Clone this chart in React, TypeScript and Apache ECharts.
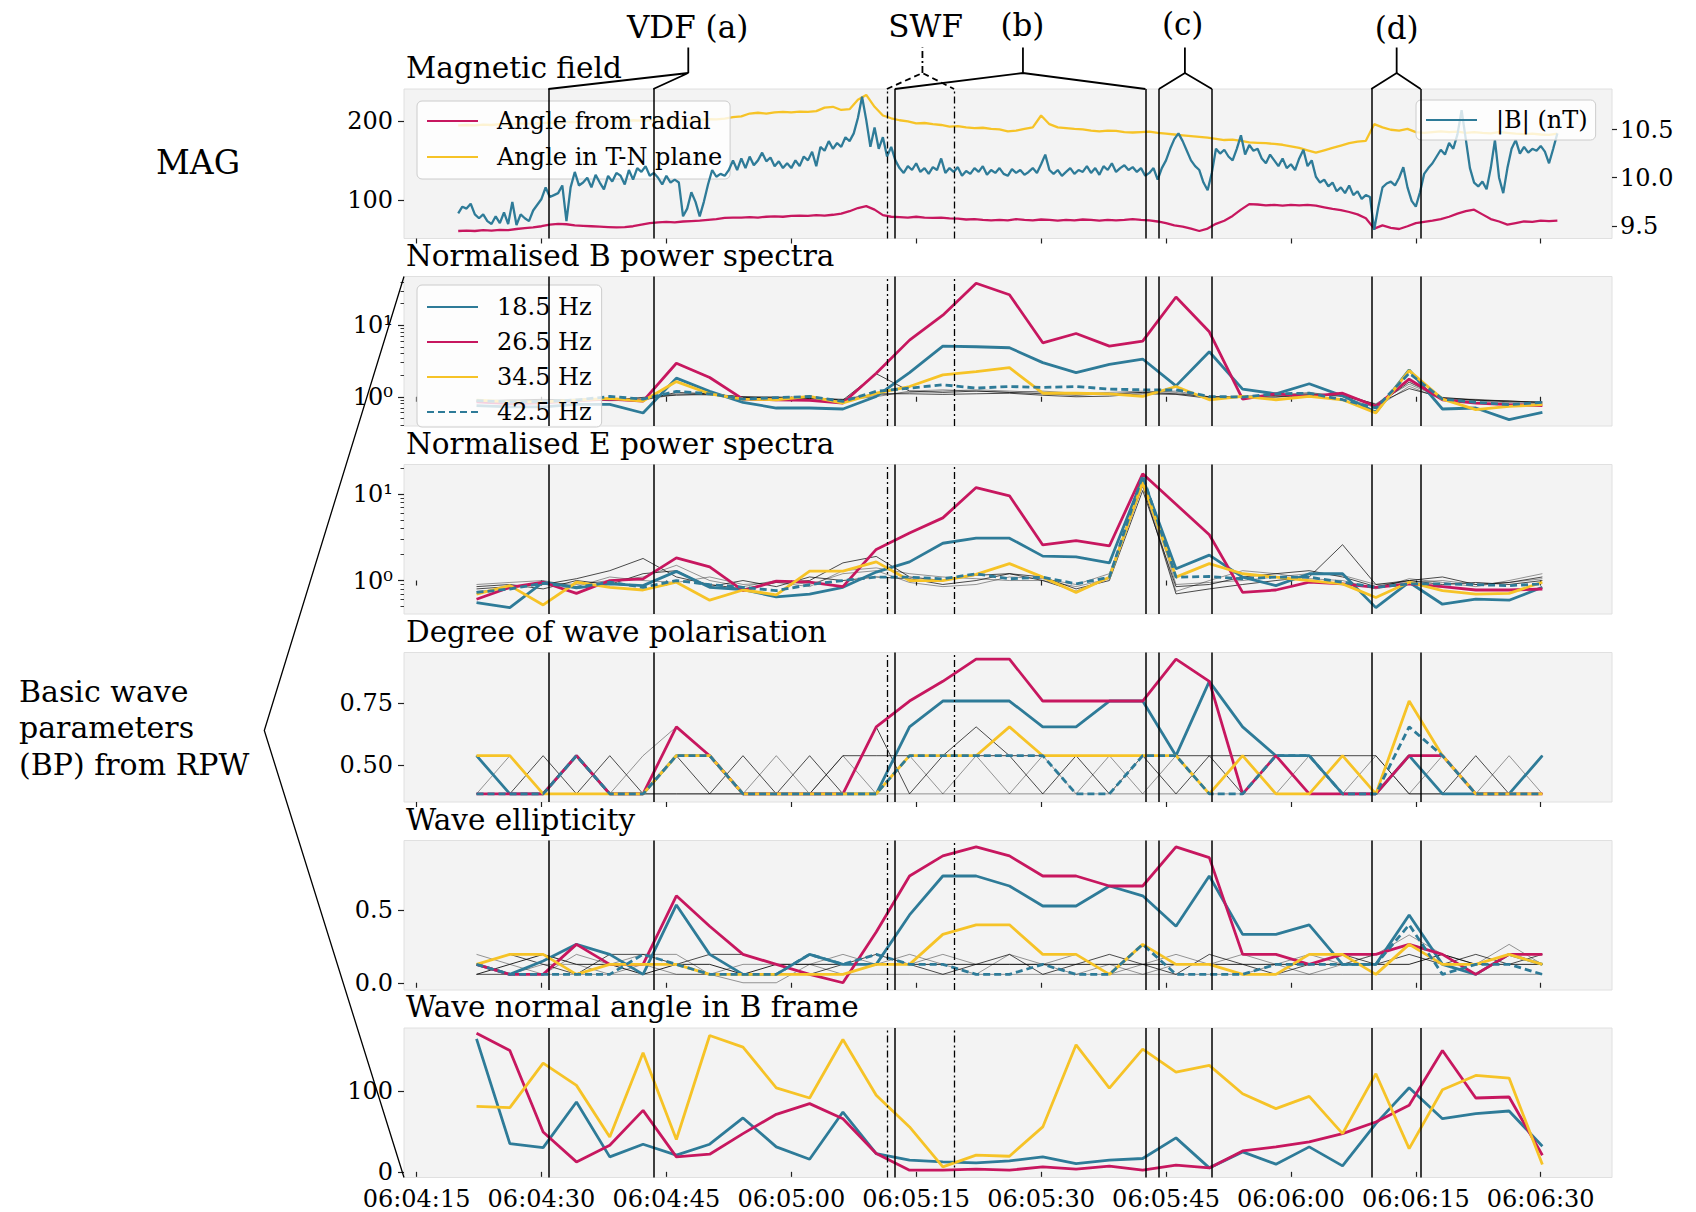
import React, { useEffect, useRef } from "react";
import * as echarts from "echarts";

// ---------- style constants ----------
const FONT = "DejaVu Serif";
const BLUE = "#2e7b98";
const RED = "#c7175f";
const YELLOW = "#f6c327";
const GRAY_DARK = "rgba(0,0,0,0.7)";
const GRAY_LIGHT = "rgba(0,0,0,0.4)";

// ---------- layout (px) ----------
const CHART_W = 1696;
const CHART_H = 1212;
const GRID_LEFT = 404;
const GRID_RIGHT = 84;
const GRID_TOPS = [89, 276.5, 464.5, 652.5, 840.5, 1028];
const GRID_H = 149.5;

// ---------- time axis: seconds after 06:04:00 ----------
const X_MIN = 13.49;
const X_MAX = 158.56;
const xTicks = [15, 30, 45, 60, 75, 90, 105, 120, 135, 150];

// event intervals (seconds after 06:04:00)
const vdfLines = [30.82, 43.43];
const swfLines = [71.48, 79.55];
const bLines = [72.43, 102.53];
const cLines = [104.15, 110.52];
const dLines = [129.65, 135.58];

const panelTitles = [
  "Magnetic field",
  "Normalised B power spectra",
  "Normalised E power spectra",
  "Degree of wave polarisation",
  "Wave ellipticity",
  "Wave normal angle in B frame",
];

// ---------- MAG data ----------
const MAG_B_T0 = 20.0;
const MAG_B_DT = 0.5;
const magB = [
  9.63, 9.70, 9.68, 9.73, 9.62, 9.58, 9.62, 9.55, 9.52, 9.60,
  9.53, 9.64, 9.52, 9.75, 9.51, 9.62, 9.58, 9.55, 9.66, 9.72,
  9.78, 9.90, 9.80, 9.82, 9.84, 9.92, 9.55, 9.90, 10.06, 9.92,
  9.95, 10.00, 9.90, 10.03, 9.95, 9.88, 10.02, 9.96, 10.05, 10.02,
  9.93, 10.08, 9.98, 10.10, 10.06, 10.12, 10.02, 10.05, 10.00, 9.93,
  10.02, 9.95, 9.98, 9.95, 9.60, 9.68, 9.85, 9.75, 9.60, 9.75,
  9.93, 10.08, 10.01, 10.04, 10.02, 10.08, 10.18, 10.08, 10.20, 10.10,
  10.22, 10.13, 10.18, 10.26, 10.17, 10.21, 10.12, 10.17, 10.10, 10.15,
  10.10, 10.18, 10.12, 10.22, 10.18, 10.27, 10.12, 10.32, 10.28, 10.38,
  10.30, 10.36, 10.32, 10.42, 10.38, 10.46, 10.62, 10.84, 10.60, 10.32,
  10.52, 10.30, 10.42, 10.22, 10.32, 10.18, 10.10, 10.05, 10.12, 10.08,
  10.15, 10.06, 10.10, 10.04, 10.11, 10.08, 10.20, 10.05, 10.10, 10.06,
  10.11, 10.02, 10.07, 10.04, 10.10, 10.06, 10.12, 10.03, 10.08, 10.05,
  10.10, 10.04, 10.02, 10.09, 10.05, 10.08, 10.03, 10.06, 10.10, 10.05,
  10.14, 10.24, 10.08, 10.04, 10.08, 10.02, 10.06, 10.10, 10.04, 10.08,
  10.06, 10.12, 10.05, 10.10, 10.03, 10.12, 10.08, 10.15, 10.06, 10.10,
  10.13, 10.08, 10.11, 10.06, 10.10, 10.02, 10.05, 10.10, 9.98, 10.10,
  10.18, 10.30, 10.40, 10.46, 10.38, 10.28, 10.18, 10.12, 10.08, 9.95,
  9.87, 10.05, 10.30, 10.25, 10.29, 10.22, 10.18, 10.30, 10.44, 10.24,
  10.34, 10.28, 10.30, 10.20, 10.15, 10.24, 10.18, 10.12, 10.20, 10.10,
  10.14, 10.08, 10.20, 10.29, 10.12, 10.18, 10.01, 9.95, 9.98, 9.91,
  9.95, 9.86, 9.90, 9.84, 9.92, 9.82, 9.86, 9.78, 9.82, 9.80,
  9.46, 9.70, 9.90, 9.94, 9.96, 9.92, 10.00, 10.11, 9.90, 9.76,
  9.70, 9.85, 10.04, 10.10, 10.15, 10.22, 10.29, 10.24, 10.36, 10.30,
  10.45, 10.70, 10.40, 10.10, 9.95, 9.91, 9.96, 9.88, 10.10, 10.39,
  10.00, 9.84, 10.10, 10.30, 10.39, 10.25, 10.32, 10.26, 10.30, 10.28,
  10.33, 10.27, 10.15, 10.30, 10.46,
];

const MAG_ANG_T0 = 20;
const MAG_ANG_DT = 1;
const angleRadial = [
  61, 61.5, 61, 62, 61.5, 62.5, 62, 63.5, 64.5, 65.5,
  67, 69, 70, 69.5, 68, 67.5, 67, 66.5, 66, 65.5,
  66, 67, 69, 71, 72, 72.5, 72, 73, 73.5, 74,
  75, 76, 77.5, 78, 78, 78.5, 78, 79, 79.5, 79,
  80, 80.5, 80, 81, 80.5, 81.5, 83, 86, 90, 92.5,
  88, 81, 79, 78.5, 78, 79, 78, 77.5, 78, 77,
  76.5, 75.5, 76, 75, 74.5, 75, 74.5, 76, 75, 74.5,
  75.5, 75, 74, 75, 74.5, 75.5, 75, 74, 75, 74.5,
  75, 76, 75, 74.5, 73, 71, 68, 66.5, 64, 61,
  64, 70, 74, 80, 88, 95, 94.5, 93.5, 94, 93,
  94, 93.5, 94, 93, 91, 89, 87.5, 85, 82, 77,
  64, 68, 65, 63.5, 67, 71, 72.5, 74, 76, 79,
  83, 86, 88, 82, 76, 73, 69, 71, 73, 72.5,
  74, 73.5, 74,
];
const angleTN = [
  194.5, 195, 194.5, 195.5, 195, 196, 196, 196.5, 197, 196.5,
  197.5, 198, 197.5, 198.5, 199, 198.5, 199.5, 199, 200, 200.5,
  200, 201, 200.5, 201, 201.5, 201, 202, 201.5, 202, 201.5,
  202.5, 202, 203, 205, 206, 209.5, 210.5, 209.5, 211, 211.5,
  211, 212, 211.5, 212.5, 217, 218, 214, 215, 227, 233,
  218, 207, 203.5, 201, 199.5, 197, 197.5, 196, 195, 193,
  193.5, 192, 191, 191.5, 190, 189.5, 187, 188, 190, 192,
  207, 196, 192, 191, 190, 189.5, 188, 187, 188, 187.5,
  186, 185.5, 186, 186.5, 185, 184, 183, 182, 181, 180,
  179, 177.5, 176, 176.5, 175, 173, 172.5, 172, 171, 170,
  168, 166, 163, 160, 163, 166, 169, 172, 174, 175,
  196, 192, 189, 188, 190, 186, 185, 186, 187, 186,
  186.5, 185, 186, 185, 184.5, 186, 185, 184, 183.5, 184,
  183, 182.5, 184,
];

// ---------- BP data (RPW) ----------
const bpTime = [
  22.2, 26.2, 30.2, 34.2, 38.2, 42.2, 46.2, 50.2, 54.2, 58.2,
  62.2, 66.2, 70.2, 74.2, 78.2, 82.2, 86.2, 90.2, 94.2, 98.2,
  102.2, 106.2, 110.2, 114.2, 118.2, 122.2, 126.2, 130.2, 134.2, 138.2,
  142.2, 146.2, 150.2,
];
const freqNames = ["18.5 Hz", "26.5 Hz", "34.5 Hz", "42.5 Hz"];

// Normalised B power spectra
const bPow185 = [0.75, 0.72, 0.72, 0.78, 0.78, 0.593, 1.82, 1.19, 0.834, 0.696, 0.696, 0.674, 1.01, 2.18, 5.1, 5.0, 4.84, 3.0, 2.18, 2.84, 3.37, 1.42, 4.26, 1.28, 1.10, 1.52, 1.03, 0.606, 2.37, 0.674, 0.696, 0.479, 0.606];
const bPow265 = [0.85, 0.8, 0.82, 0.88, 0.928, 0.87, 2.94, 1.86, 0.928, 0.908, 0.889, 0.817, 2.13, 6.19, 13.8, 38.6, 26.7, 5.68, 7.66, 5.1, 5.99, 24.8, 8.1, 0.928, 1.10, 1.01, 1.12, 0.734, 1.76, 0.908, 0.817, 0.774, 0.750];
const bPow345 = [0.9, 0.85, 0.85, 0.9, 0.95, 0.87, 1.63, 1.10, 0.928, 0.908, 1.01, 0.817, 1.12, 1.39, 2.02, 2.25, 2.55, 1.12, 1.12, 1.10, 1.01, 1.39, 0.908, 1.01, 0.908, 1.01, 0.908, 0.593, 2.32, 0.928, 0.66, 0.734, 0.774];
const bPow425 = [0.88, 0.85, 0.86, 0.9, 1.01, 0.928, 1.19, 1.10, 0.928, 0.97, 1.01, 0.861, 1.19, 1.32, 1.47, 1.32, 1.39, 1.35, 1.39, 1.28, 1.25, 1.25, 1.01, 0.99, 1.10, 1.12, 0.908, 0.696, 2.13, 0.928, 0.834, 0.774, 0.834];
const bPowOtherA = [0.85, 0.88, 0.9, 0.92, 0.95, 0.9, 1.15, 1.1, 0.98, 0.95, 0.95, 0.9, 2.1, 1.2, 1.15, 1.2, 1.15, 1.1, 1.05, 1.1, 1.15, 1.1, 1.0, 1.0, 1.05, 1.1, 1.05, 0.75, 1.6, 0.95, 0.9, 0.85, 0.85];
const bPowOtherB = [0.9, 0.85, 0.88, 0.9, 0.92, 0.95, 1.1, 1.05, 1.0, 0.95, 0.92, 0.88, 1.05, 1.15, 1.2, 1.25, 1.2, 1.15, 1.1, 1.15, 1.2, 1.15, 0.98, 1.02, 1.05, 1.15, 1.0, 0.7, 1.4, 0.92, 0.88, 0.82, 0.8];
const bPowOtherC = [0.88, 0.9, 0.92, 0.88, 0.9, 0.98, 1.05, 1.08, 1.0, 0.98, 0.95, 0.92, 1.1, 1.1, 1.08, 1.1, 1.12, 1.05, 1.0, 1.02, 1.1, 1.08, 0.95, 0.98, 1.0, 1.05, 1.1, 0.78, 1.3, 0.98, 0.9, 0.88, 0.82];
const bPowOtherD = [0.86, 0.9, 0.86, 0.92, 0.88, 0.9, 1.08, 1.12, 0.98, 1.0, 0.98, 0.9, 1.0, 1.2, 1.25, 1.2, 1.15, 1.2, 1.12, 1.08, 1.15, 1.2, 1.0, 1.0, 0.98, 1.08, 1.02, 0.8, 1.5, 0.95, 0.92, 0.86, 0.84];

// Normalised E power spectra
const ePow185 = [0.556, 0.486, 0.956, 0.820, 0.914, 0.873, 1.276, 0.835, 0.784, 0.648, 0.697, 0.835, 1.253, 1.643, 2.70, 3.09, 3.09, 1.916, 1.880, 1.599, 15.3, 1.371, 1.968, 1.094, 0.873, 1.198, 1.198, 0.486, 0.956, 0.532, 0.608, 0.592, 0.835];
const ePow265 = [0.608, 0.835, 0.956, 0.710, 1.0, 1.046, 1.83, 1.435, 0.763, 0.982, 0.956, 0.850, 2.29, 3.54, 5.31, 11.9, 9.55, 2.58, 2.90, 2.51, 17.2, 7.63, 3.38, 0.729, 0.777, 0.956, 0.914, 0.835, 0.914, 0.850, 0.777, 0.777, 0.798];
const ePow345 = [0.697, 0.873, 0.522, 0.956, 0.835, 0.777, 0.956, 0.592, 0.777, 0.684, 1.288, 1.288, 1.643, 1.0, 1.0, 1.176, 1.570, 1.094, 0.729, 1.094, 13.7, 1.094, 1.570, 1.198, 1.094, 1.0, 0.914, 0.637, 0.956, 0.763, 0.697, 0.710, 0.956];
const ePow425 = [0.729, 0.798, 0.930, 0.835, 0.956, 0.835, 1.0, 0.897, 0.835, 0.763, 0.897, 1.0, 1.094, 1.094, 1.046, 1.198, 1.046, 1.094, 0.914, 1.094, 16.4, 1.094, 1.114, 1.046, 1.094, 1.094, 0.956, 0.835, 0.914, 0.914, 0.897, 0.873, 0.914];
const ePowOtherA = [0.8, 0.85, 0.9, 1.05, 1.3, 1.8, 1.1, 0.9, 0.8, 0.95, 1.0, 1.6, 1.9, 1.1, 1.0, 1.15, 1.2, 1.0, 0.75, 1.1, 12.5, 0.7, 0.8, 0.9, 1.0, 1.1, 2.6, 0.9, 1.0, 1.1, 0.9, 0.95, 1.1];
const ePowOtherB = [0.75, 0.8, 0.95, 0.9, 1.0, 1.1, 1.5, 1.0, 0.85, 1.0, 0.9, 1.2, 1.3, 0.95, 0.85, 0.9, 1.1, 1.05, 0.9, 1.2, 14, 0.75, 1.0, 1.3, 1.2, 1.05, 1.0, 0.8, 1.05, 0.95, 0.85, 1.0, 1.2];
const ePowOtherC = [0.85, 0.9, 0.8, 1.0, 0.9, 1.2, 1.3, 0.85, 1.0, 0.85, 1.1, 1.0, 1.1, 1.05, 0.9, 1.0, 1.2, 1.1, 0.8, 1.0, 11, 0.85, 0.9, 1.1, 1.2, 1.3, 1.1, 0.85, 1.0, 0.9, 0.95, 0.9, 1.0];
const ePowOtherD = [0.9, 0.95, 1.0, 0.85, 1.1, 1.0, 0.95, 1.1, 0.9, 0.95, 0.85, 1.3, 1.4, 1.2, 1.1, 1.05, 1.0, 1.0, 0.85, 1.05, 16, 0.9, 0.95, 1.0, 1.1, 1.2, 1.15, 0.9, 0.95, 1.0, 0.9, 0.95, 1.05];

// Degree of wave polarisation
const pol185 = [0.538, 0.383, 0.383, 0.538, 0.383, 0.383, 0.538, 0.538, 0.383, 0.383, 0.383, 0.383, 0.383, 0.655, 0.76, 0.76, 0.76, 0.655, 0.655, 0.76, 0.76, 0.538, 0.84, 0.655, 0.538, 0.538, 0.383, 0.383, 0.538, 0.383, 0.383, 0.383, 0.538];
const pol265 = [0.383, 0.383, 0.383, 0.538, 0.383, 0.383, 0.655, 0.538, 0.383, 0.383, 0.383, 0.383, 0.655, 0.76, 0.84, 0.93, 0.93, 0.76, 0.76, 0.76, 0.76, 0.93, 0.84, 0.383, 0.538, 0.383, 0.383, 0.383, 0.538, 0.538, 0.383, 0.383, 0.383];
const pol345 = [0.538, 0.538, 0.383, 0.383, 0.383, 0.383, 0.538, 0.538, 0.383, 0.383, 0.383, 0.383, 0.383, 0.538, 0.538, 0.538, 0.655, 0.538, 0.538, 0.538, 0.538, 0.538, 0.383, 0.538, 0.383, 0.383, 0.538, 0.383, 0.76, 0.538, 0.383, 0.383, 0.383];
const pol425 = [0.383, 0.383, 0.383, 0.538, 0.383, 0.383, 0.538, 0.538, 0.383, 0.383, 0.383, 0.383, 0.383, 0.538, 0.538, 0.538, 0.538, 0.538, 0.383, 0.383, 0.538, 0.538, 0.383, 0.383, 0.538, 0.538, 0.383, 0.383, 0.655, 0.538, 0.383, 0.383, 0.383];
const polOtherA = [0.383, 0.538, 0.383, 0.538, 0.383, 0.538, 0.655, 0.538, 0.383, 0.538, 0.383, 0.538, 0.383, 0.538, 0.383, 0.538, 0.383, 0.538, 0.383, 0.538, 0.383, 0.538, 0.383, 0.538, 0.383, 0.538, 0.383, 0.538, 0.383, 0.538, 0.383, 0.538, 0.383];
const polOtherB = [0.538, 0.383, 0.538, 0.383, 0.538, 0.383, 0.538, 0.383, 0.538, 0.383, 0.538, 0.383, 0.655, 0.383, 0.538, 0.655, 0.538, 0.383, 0.538, 0.383, 0.538, 0.383, 0.538, 0.383, 0.538, 0.383, 0.538, 0.383, 0.538, 0.383, 0.538, 0.383, 0.538];
const polOtherC = [0.383, 0.383, 0.383, 0.383, 0.383, 0.383, 0.383, 0.383, 0.383, 0.383, 0.383, 0.538, 0.538, 0.538, 0.538, 0.538, 0.538, 0.538, 0.538, 0.538, 0.538, 0.538, 0.538, 0.538, 0.538, 0.538, 0.538, 0.538, 0.383, 0.383, 0.383, 0.383, 0.383];
const polOtherD = [0.383, 0.383, 0.383, 0.383, 0.383, 0.383, 0.383, 0.383, 0.383, 0.383, 0.383, 0.383, 0.383, 0.383, 0.383, 0.383, 0.383, 0.383, 0.383, 0.383, 0.383, 0.383, 0.383, 0.383, 0.383, 0.383, 0.383, 0.383, 0.383, 0.383, 0.383, 0.383, 0.383];

// Wave ellipticity
const ell185 = [0.127, 0.058, 0.15, 0.265, 0.196, 0.058, 0.537, 0.196, 0.058, 0.058, 0.196, 0.127, 0.127, 0.468, 0.737, 0.737, 0.668, 0.53, 0.53, 0.668, 0.60, 0.39, 0.737, 0.334, 0.334, 0.40, 0.127, 0.127, 0.468, 0.127, 0.058, 0.196, 0.127];
const ell265 = [0.127, 0.058, 0.058, 0.265, 0.127, 0.127, 0.60, 0.39, 0.196, 0.127, 0.058, 0.0, 0.35, 0.737, 0.876, 0.938, 0.876, 0.737, 0.737, 0.668, 0.668, 0.938, 0.864, 0.196, 0.196, 0.127, 0.196, 0.196, 0.265, 0.196, 0.058, 0.196, 0.196];
const ell345 = [0.127, 0.196, 0.196, 0.058, 0.127, 0.127, 0.127, 0.058, 0.058, 0.058, 0.058, 0.058, 0.127, 0.127, 0.334, 0.40, 0.40, 0.196, 0.196, 0.058, 0.265, 0.127, 0.127, 0.058, 0.058, 0.196, 0.196, 0.058, 0.265, 0.127, 0.127, 0.196, 0.127];
const ell425 = [0.127, 0.058, 0.058, 0.058, 0.058, 0.196, 0.127, 0.058, 0.058, 0.058, 0.196, 0.127, 0.196, 0.127, 0.127, 0.058, 0.058, 0.127, 0.058, 0.058, 0.265, 0.058, 0.058, 0.058, 0.127, 0.127, 0.127, 0.127, 0.40, 0.058, 0.127, 0.127, 0.058];
const ellOtherA = [0.196, 0.127, 0.058, 0.196, 0.127, 0.196, 0.196, 0.058, 0.0, 0.0, 0.127, 0.196, 0.127, 0.196, 0.127, 0.058, 0.196, 0.127, 0.196, 0.058, 0.127, 0.196, 0.127, 0.196, 0.127, 0.196, 0.127, 0.196, 0.33, 0.196, 0.127, 0.265, 0.127];
const ellOtherB = [0.127, 0.196, 0.127, 0.058, 0.196, 0.196, 0.127, 0.196, 0.196, 0.127, 0.058, 0.127, 0.196, 0.127, 0.058, 0.127, 0.196, 0.058, 0.127, 0.196, 0.127, 0.058, 0.196, 0.127, 0.058, 0.127, 0.196, 0.127, 0.196, 0.127, 0.196, 0.127, 0.196];
const ellOtherC = [0.058, 0.058, 0.127, 0.127, 0.058, 0.127, 0.058, 0.058, 0.127, 0.127, 0.127, 0.058, 0.127, 0.127, 0.196, 0.127, 0.127, 0.127, 0.058, 0.127, 0.058, 0.127, 0.127, 0.058, 0.127, 0.058, 0.127, 0.196, 0.265, 0.127, 0.058, 0.196, 0.196];
const ellOtherD = [0.058, 0.127, 0.196, 0.127, 0.127, 0.058, 0.127, 0.127, 0.058, 0.127, 0.127, 0.127, 0.127, 0.127, 0.127, 0.127, 0.127, 0.127, 0.127, 0.127, 0.127, 0.127, 0.127, 0.127, 0.127, 0.127, 0.127, 0.127, 0.127, 0.196, 0.127, 0.127, 0.127];
const ellOtherE = [0.058, 0.058, 0.058, 0.058, 0.058, 0.058, 0.058, 0.058, 0.058, 0.058, 0.058, 0.058, 0.058, 0.058, 0.058, 0.058, 0.058, 0.058, 0.058, 0.058, 0.058, 0.058, 0.058, 0.058, 0.058, 0.058, 0.058, 0.058, 0.058, 0.058, 0.058, 0.058, 0.058];

// Wave normal angle in B frame
const wna185 = [164.6, 35, 30, 86.4, 18.5, 34.2, 20.6, 34.2, 66.7, 30.9, 15.6, 74, 22.6, 14.4, 12.3, 11.1, 13.6, 18.5, 10.3, 14.4, 16.5, 42, 4.9, 24.7, 9.5, 30.9, 7.4, 59.7, 104, 65.8, 72, 75.3, 31.7];
const wna265 = [171.6, 150.2, 49.4, 12.3, 32.9, 76.1, 18.5, 21.8, 47.3, 71.2, 84.4, 65.8, 22.6, 2.1, 2.1, 3.3, 2.1, 6.2, 3.3, 7, 2.1, 8.2, 4.9, 25.9, 30.9, 37, 47.3, 61.7, 82.3, 150.2, 91.4, 92.6, 20.6];
const wna345 = [81, 79.4, 134.6, 107, 43.2, 147.3, 40, 168.7, 154.3, 104, 91.4, 163.8, 94.7, 55.6, 6.2, 20.6, 19.3, 55.6, 157.2, 103.7, 151.9, 123.5, 131.7, 96.7, 78.2, 93.4, 47.3, 121.4, 28.8, 101.6, 119.3, 116, 9];

// ---------- axis ranges / ticks ----------
const angRange = [51.5, 240.5];
const angTicks = [100, 200];
const bRange = [9.37, 10.92];
const bTicks = [9.5, 10.0, 10.5];
const bPowRange = [0.39, 48];
const ePowRange = [0.41, 22];
const logMajor = [1, 10];
const logMinor = [0.4, 0.5, 0.6, 0.7, 0.8, 0.9, 2, 3, 4, 5, 6, 7, 8, 9, 20, 30, 40];
const polRange = [0.35, 0.957];
const polTicks = [0.5, 0.75];
const ellRange = [-0.05, 0.982];
const ellTicks = [0, 0.5];
const wnaRange = [-7, 178];
const wnaTicks = [0, 100];

// annotation (label) positions
const annotations = [
  { label: "VDF (a)", lines: vdfLines, apexT: 47.63, labelT: 47.55, labelY: 26.7, dashed: false },
  { label: "SWF", lines: swfLines, apexT: 75.75, labelT: 76.13, labelY: 26.2, dashed: true },
  { label: "(b)", lines: bLines, apexT: 87.82, labelT: 87.76, labelY: 25, dashed: false },
  { label: "(c)", lines: cLines, apexT: 107.27, labelT: 107.0, labelY: 23.5, dashed: false },
  { label: "(d)", lines: dLines, apexT: 132.7, labelT: 132.7, labelY: 27.8, dashed: false },
];

// ---------- helpers ----------
const lg = (v: number) => Math.log10(v);
const pairs = (ts: number[], vs: number[], f: (v: number) => number = (v) => v) =>
  vs.map((v, i) => [ts[i], f(v)]);
const cadence = (t0: number, dt: number, vs: number[]) => vs.map((_, i) => t0 + i * dt);

const fmtTime = (v: number) => {
  const total = 4 * 60 + Math.round(v);
  const m = Math.floor(total / 60);
  const s = total % 60;
  return `06:${String(m).padStart(2, "0")}:${String(s).padStart(2, "0")}`;
};
const supDigits: Record<string, string> = { "0": "\u2070", "1": "\u00b9", "2": "\u00b2", "-": "\u207b" };
const fmtLog = (v: number) => "10" + String(Math.round(v)).split("").map((c) => supDigits[c] || c).join("");

const TICK_COLOR = "#222";

function xAxisFor(i: number) {
  return {
    type: "value",
    gridIndex: i,
    min: X_MIN,
    max: X_MAX,
    axisLine: { show: false },
    splitLine: { show: false },
    axisTick: { show: true, customValues: xTicks, length: 5, lineStyle: { color: TICK_COLOR, width: 1.2 } },
    axisLabel: {
      show: i === 5,
      customValues: xTicks,
      formatter: fmtTime,
      fontSize: 24,
      fontFamily: FONT,
      color: "#000",
      margin: 9,
    },
  };
}

function yAxisFor(gridIndex: number, min: number, max: number, ticks: number[], fmt: (v: number) => string, opts: any = {}) {
  return {
    type: "value",
    gridIndex,
    min,
    max,
    position: opts.position || "left",
    axisLine: { show: false },
    splitLine: { show: false },
    axisTick: {
      show: true,
      customValues: ticks,
      length: opts.tickLen ?? 6,
      lineStyle: { color: TICK_COLOR, width: opts.tickWidth ?? 1.2 },
    },
    axisLabel: {
      show: opts.showLabel !== false,
      customValues: ticks,
      formatter: fmt,
      fontSize: 24,
      fontFamily: FONT,
      color: "#000",
      margin: opts.margin ?? 11,
    },
  };
}

function lineSeries(name: string, xi: number, yi: number, data: number[][], color: string, width: number, extra: any = {}) {
  return {
    type: "line",
    name,
    xAxisIndex: xi,
    yAxisIndex: yi,
    data,
    symbol: "none",
    showSymbol: false,
    silent: true,
    animation: false,
    emphasis: { disabled: true },
    lineStyle: { color, width, type: extra.dash || "solid" },
    itemStyle: { color },
    z: extra.z ?? 2,
  };
}

function markerHost(gi: number, yi: number, z: number) {
  const solid = [...vdfLines, ...bLines, ...cLines, ...dLines];
  return {
    type: "line",
    name: "markers" + gi,
    xAxisIndex: gi,
    yAxisIndex: yi,
    data: [],
    silent: true,
    animation: false,
    z,
    markLine: {
      silent: true,
      animation: false,
      symbol: ["none", "none"],
      label: { show: false },
      emphasis: { disabled: true },
      lineStyle: { color: "#000", width: 1.5, type: "solid" },
      data: [
        ...solid.map((x) => ({ xAxis: x })),
        ...swfLines.map((x) => ({ xAxis: x, lineStyle: { color: "#000", width: 1.3, type: [7, 3, 2, 3] } })),
      ],
    },
  };
}

function buildOption() {
  const grids = GRID_TOPS.map((t) => ({
    left: GRID_LEFT,
    right: GRID_RIGHT,
    top: t,
    height: GRID_H,
    show: true,
    backgroundColor: "#f3f3f3",
    borderColor: "#e0e0e0",
    borderWidth: 1,
    containLabel: false,
  }));

  const yAxes = [
    yAxisFor(0, angRange[0], angRange[1], angTicks, (v) => String(v)),
    yAxisFor(0, bRange[0], bRange[1], bTicks, (v) => v.toFixed(1), { position: "right", tickLen: 5, margin: 8 }),
    yAxisFor(1, lg(bPowRange[0]), lg(bPowRange[1]), logMajor.map(lg), fmtLog),
    yAxisFor(1, lg(bPowRange[0]), lg(bPowRange[1]), logMinor.map(lg), () => "", { showLabel: false, tickLen: 3.5, tickWidth: 0.9 }),
    yAxisFor(2, lg(ePowRange[0]), lg(ePowRange[1]), logMajor.map(lg), fmtLog),
    yAxisFor(2, lg(ePowRange[0]), lg(ePowRange[1]), logMinor.filter((v) => v >= ePowRange[0] && v <= ePowRange[1]).map(lg), () => "", { showLabel: false, tickLen: 3.5, tickWidth: 0.9 }),
    yAxisFor(3, polRange[0], polRange[1], polTicks, (v) => v.toFixed(2)),
    yAxisFor(4, ellRange[0], ellRange[1], ellTicks, (v) => v.toFixed(1)),
    yAxisFor(5, wnaRange[0], wnaRange[1], wnaTicks, (v) => String(v)),
  ];

  const magBT = cadence(MAG_B_T0, MAG_B_DT, magB);
  const magAT = cadence(MAG_ANG_T0, MAG_ANG_DT, angleRadial);

  const series: any[] = [];
  series.push(lineSeries("Angle from radial", 0, 0, pairs(magAT, angleRadial), RED, 2.3, { z: 1 }));
  series.push(lineSeries("Angle in T-N plane", 0, 0, pairs(magAT, angleTN), YELLOW, 2.3, { z: 1 }));
  series.push(markerHost(0, 0, 1));
  series.push(lineSeries("|B| (nT)", 0, 1, pairs(magBT, magB), BLUE, 2.3, { z: 3 }));

  const bpPanel = (gi: number, yi: number, main: number[][], others: number[][], f: (v: number) => number, prefix: string, otherColors: string[]) => {
    others.forEach((o, k) => series.push(lineSeries(prefix + " other " + k, gi, yi, pairs(bpTime, o, f), otherColors[k % otherColors.length], 1)));
    const names = freqNames.map((n) => (prefix ? prefix + " " + n : n));
    series.push(lineSeries(names[0], gi, yi, pairs(bpTime, main[0], f), BLUE, 2.8));
    series.push(lineSeries(names[1], gi, yi, pairs(bpTime, main[1], f), RED, 2.8));
    series.push(lineSeries(names[2], gi, yi, pairs(bpTime, main[2], f), YELLOW, 2.8));
    if (main[3]) series.push(lineSeries(names[3], gi, yi, pairs(bpTime, main[3], f), BLUE, 2.8, { dash: [7, 4] }));
    series.push(markerHost(gi, yi, 5));
  };

  bpPanel(1, 2, [bPow185, bPow265, bPow345, bPow425], [bPowOtherA, bPowOtherB, bPowOtherC, bPowOtherD], lg, "", [GRAY_DARK, GRAY_LIGHT]);
  bpPanel(2, 4, [ePow185, ePow265, ePow345, ePow425], [ePowOtherA, ePowOtherB, ePowOtherC, ePowOtherD], lg, "E", [GRAY_DARK, GRAY_LIGHT]);
  bpPanel(3, 6, [pol185, pol265, pol345, pol425], [polOtherA, polOtherB, polOtherC, polOtherD], (v) => v, "P", [GRAY_LIGHT, GRAY_DARK, GRAY_DARK, GRAY_LIGHT]);
  bpPanel(4, 7, [ell185, ell265, ell345, ell425], [ellOtherA, ellOtherB, ellOtherC, ellOtherD, ellOtherE], (v) => v, "L", [GRAY_LIGHT, GRAY_DARK, GRAY_LIGHT, "rgba(0,0,0,0.85)", GRAY_LIGHT]);
  bpPanel(5, 8, [wna185, wna265, wna345, null as any], [], (v) => v, "W", [GRAY_DARK]);

  const legendBase = {
    orient: "vertical",
    itemWidth: 51,
    itemHeight: 14,
    itemGap: 12,
    selectedMode: false,
    backgroundColor: "rgba(255,255,255,0.8)",
    borderColor: "#cccccc",
    borderWidth: 1,
    borderRadius: 5,
    itemStyle: { opacity: 0 },
    textStyle: { fontFamily: FONT, fontSize: 24, color: "#000", lineHeight: 24, padding: [0, 0, 0, 14] },
  };

  return {
    animation: false,
    backgroundColor: "#ffffff",
    textStyle: { fontFamily: FONT },
    grid: grids,
    xAxis: GRID_TOPS.map((_, i) => xAxisFor(i)),
    yAxis: yAxes,
    legend: [
      { ...legendBase, data: ["Angle from radial", "Angle in T-N plane"], left: 417, top: 101, padding: [8, 8, 10, 9], z: 2 },
      { ...legendBase, data: ["|B| (nT)"], left: 1416, top: 100, padding: [8, 8, 8, 9], z: 4 },
      { ...legendBase, data: freqNames, left: 417, top: 285, itemGap: 11, padding: [10, 10, 3, 9], z: 4 },
    ],
    series,
  };
}

function textEl(text: string, x: number, y: number, size: number, align = "left", lineHeight?: number) {
  return {
    type: "text",
    x,
    y,
    silent: true,
    z: 10,
    style: {
      text,
      fontSize: size,
      fontFamily: FONT,
      fill: "#000",
      textAlign: align,
      textVerticalAlign: "middle",
      align,
      verticalAlign: "middle",
      lineHeight: lineHeight ?? Math.round(size * 1.15),
    },
  };
}

function buildGraphics(chart: any) {
  const px = (t: number) => chart.convertToPixel({ xAxisIndex: 0 }, t) as number;
  const top0 = GRID_TOPS[0];
  const apexY = top0 - 16;
  const stemTopY = top0 - 41.5;
  const els: any[] = [];

  panelTitles.forEach((t, i) => els.push(textEl(t, GRID_LEFT + 2, GRID_TOPS[i] - 21, 29.5, "left", 27)));

  annotations.forEach((a) => {
    const ax = px(a.apexT);
    els.push({
      type: "polyline",
      silent: true,
      z: 10,
      shape: { points: [[px(a.lines[0]), top0], [ax, apexY], [px(a.lines[1]), top0]] },
      style: { stroke: "#000", lineWidth: 1.8, fill: "none", lineDash: a.dashed ? [6, 4] : null },
    });
    els.push({
      type: "line",
      silent: true,
      z: 10,
      shape: { x1: ax, y1: apexY, x2: ax, y2: stemTopY },
      style: { stroke: "#000", lineWidth: 1.8, lineDash: a.dashed ? [7, 3, 2, 3] : null },
    });
    els.push(textEl(a.label, px(a.labelT), a.labelY, 31, "center"));
  });

  els.push(textEl("MAG", 198, 162, 33, "center"));
  els.push(textEl("Basic wave", 19, 691.3, 30));
  els.push(textEl("parameters", 19, 727.9, 30));
  els.push(textEl("(BP) from RPW", 19, 764.6, 30));

  els.push({
    type: "polyline",
    silent: true,
    z: 10,
    shape: { points: [[GRID_LEFT, GRID_TOPS[1]], [264.3, 730.5], [GRID_LEFT, GRID_TOPS[5] + GRID_H]] },
    style: { stroke: "#000", lineWidth: 1.3, fill: "none" },
  });
  return els;
}

export default function App() {
  const ref = useRef<HTMLDivElement>(null);
  useEffect(() => {
    if (!ref.current) return;
    const chart = echarts.init(ref.current, null, { renderer: "svg", width: CHART_W, height: CHART_H });
    chart.setOption(buildOption() as any);
    chart.setOption({ graphic: buildGraphics(chart) } as any);
    return () => chart.dispose();
  }, []);
  return (
    <div
      ref={ref}
      style={{ position: "absolute", left: 0, top: 0, width: CHART_W, height: CHART_H, background: "#fff" }}
    />
  );
}
